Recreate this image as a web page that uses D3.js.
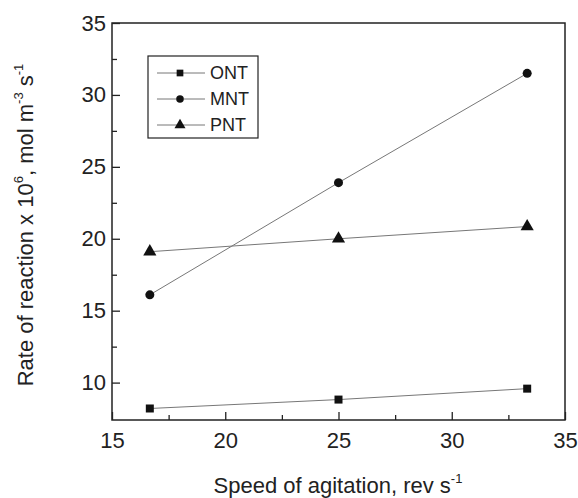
<!DOCTYPE html>
<html lang="en">
<head>
    <meta charset="UTF-8">
    <title>Rate of reaction vs speed of agitation</title>
    <script src="https://d3js.org/d3.v7.min.js"></script>
    <style>
        body { margin: 0; padding: 0; background: #fff; font-family: Arial, "Liberation Sans", sans-serif; }
        svg { display: block; }
    </style>
</head>
<body>
    <div id="chart"></div>
    <script>
        // data
        const speeds = [16.67, 25, 33.33];
        const ontRates = [8.2, 8.82, 9.58];
        const mntRates = [16.1, 23.9, 31.5];
        const pntRates = [19.1, 20.0, 20.85];
        const seriesNames = ["ONT", "MNT", "PNT"];
        const xTicks = [15, 20, 25, 30, 35];
        const yTicks = [10, 15, 20, 25, 30, 35];

        const width = 578, height = 498;
        const margin = { top: 23, right: 13, bottom: 78, left: 112 };

        const svg = d3.select("#chart").append("svg")
            .attr("width", width)
            .attr("height", height);

        const x = d3.scaleLinear().domain([15, 35]).range([margin.left, width - margin.right]);
        const y = d3.scaleLinear().domain([7.4, 35]).range([height - margin.bottom, margin.top]);

        const series = [
            { name: seriesNames[0], values: ontRates, symbol: d3.symbolSquare, size: 64 },
            { name: seriesNames[1], values: mntRates, symbol: d3.symbolCircle, size: 64 },
            { name: seriesNames[2], values: pntRates, symbol: d3.symbolTriangle, size: 75 }
        ];

        const line = d3.line().x(d => x(d[0])).y(d => y(d[1]));

        series.forEach(s => {
            const pts = speeds.map((v, i) => [v, s.values[i]]);
            svg.append("path")
                .attr("d", line(pts))
                .attr("fill", "none")
                .attr("stroke", "#777")
                .attr("stroke-width", 1);
            svg.selectAll(null)
                .data(pts)
                .enter()
                .append("path")
                .attr("d", d3.symbol().type(s.symbol).size(s.size))
                .attr("transform", d => `translate(${x(d[0])},${y(d[1])})`)
                .attr("fill", "#111");
        });

        // frame
        svg.append("rect")
            .attr("x", margin.left)
            .attr("y", margin.top)
            .attr("width", width - margin.left - margin.right)
            .attr("height", height - margin.top - margin.bottom)
            .attr("fill", "none")
            .attr("stroke", "#222")
            .attr("stroke-width", 1.5);

        // axes, ticks pointing inwards
        const xAxis = d3.axisBottom(x).tickValues(xTicks).tickSize(-8).tickPadding(12);
        const xMinor = d3.axisBottom(x).tickValues([17.5, 22.5, 27.5, 32.5]).tickSize(-5).tickFormat("");
        const yAxis = d3.axisLeft(y).tickValues(yTicks).tickSize(-8).tickPadding(6);
        const yMinor = d3.axisLeft(y).tickValues([12.5, 17.5, 22.5, 27.5, 32.5]).tickSize(-5).tickFormat("");

        [[xAxis, "x"], [xMinor, "x"], [yAxis, "y"], [yMinor, "y"]].forEach(([ax, k]) => {
            const g = svg.append("g")
                .attr("transform", k === "x" ? `translate(0,${height - margin.bottom})` : `translate(${margin.left},0)`)
                .call(ax);
            g.select(".domain").remove();
            g.selectAll("line").attr("stroke", "#222").attr("stroke-width", 1.3);
            g.selectAll("text")
                .attr("font-family", "Arial, 'Liberation Sans', sans-serif")
                .attr("font-size", 22)
                .attr("fill", "#222");
        });

        // axis titles
        const xt = svg.append("text")
            .attr("x", 338)
            .attr("y", 493)
            .attr("text-anchor", "middle")
            .attr("font-size", 22)
            .attr("fill", "#222");
        xt.append("tspan").text("Speed of agitation, rev s");
        xt.append("tspan").attr("dy", -10).attr("font-size", 13).text("-1");

        const yt = svg.append("text")
            .attr("transform", "translate(33,225) rotate(-90)")
            .attr("text-anchor", "middle")
            .attr("font-size", 22)
            .attr("fill", "#222");
        yt.append("tspan").text("Rate of reaction x 10");
        yt.append("tspan").attr("dy", -10).attr("font-size", 13).text("6");
        yt.append("tspan").attr("dy", 10).text(", mol m");
        yt.append("tspan").attr("dy", -10).attr("font-size", 13).text("-3");
        yt.append("tspan").attr("dy", 10).text(" s");
        yt.append("tspan").attr("dy", -10).attr("font-size", 13).text("-1");

        // legend
        const legend = svg.append("g").attr("transform", "translate(148,56)");
        legend.append("rect")
            .attr("width", 110)
            .attr("height", 82)
            .attr("fill", "#fff")
            .attr("stroke", "#222")
            .attr("stroke-width", 1.2);
        series.forEach((s, i) => {
            const ly = 17 + i * 26;
            legend.append("line")
                .attr("x1", 9).attr("x2", 57)
                .attr("y1", ly).attr("y2", ly)
                .attr("stroke", "#777");
            legend.append("path")
                .attr("d", d3.symbol().type(s.symbol).size(s.size * 0.7))
                .attr("transform", `translate(32,${ly})`)
                .attr("fill", "#111");
            legend.append("text")
                .attr("x", 62)
                .attr("y", ly + 6)
                .attr("font-size", 18)
                .attr("fill", "#222")
                .text(s.name);
        });
    </script>
</body>
</html>
